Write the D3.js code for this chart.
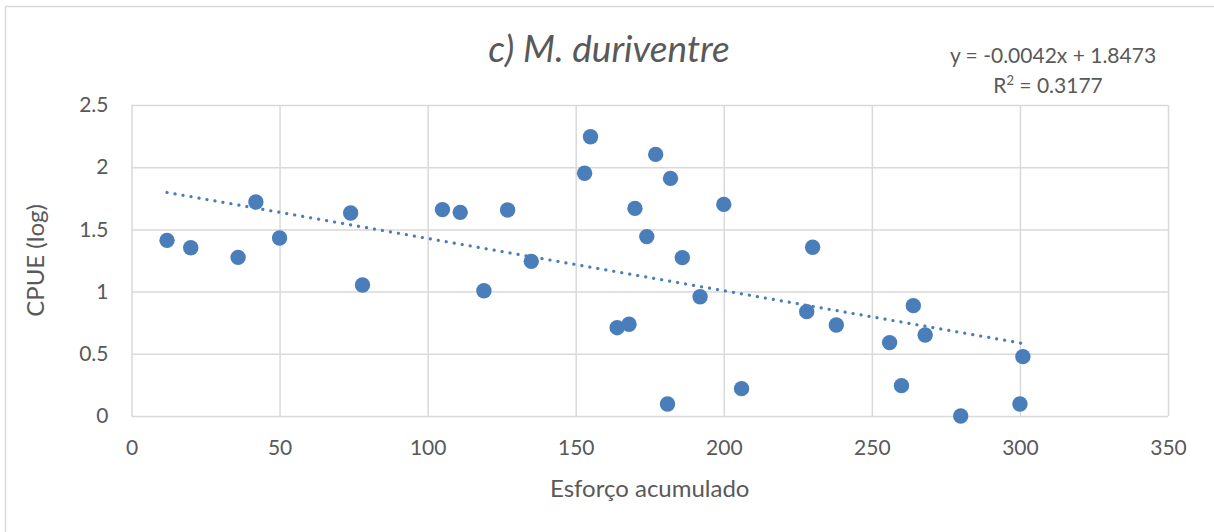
<!DOCTYPE html>
<html>
<head>
  <meta charset="utf-8">
  <script src="https://cdn.jsdelivr.net/npm/d3@7/dist/d3.min.js"></script>
  <style>
    body { margin: 0; background: #fff; }
    text { font-family: Lato, "Open Sans", sans-serif; fill: #595959; }
  </style>
</head>
<body>
<script>
  // esforço acumulado (x) and CPUE log (y)
  var esforco = [12, 20, 36, 42, 50, 74, 78, 105, 111, 119, 127, 135, 153, 155,
                 177, 182, 170, 200, 174, 186, 192, 164, 168, 181, 206, 230, 228,
                 238, 264, 256, 268, 260, 280, 301, 300];
  var cpue = [1.412, 1.353, 1.275, 1.720, 1.431, 1.632, 1.053, 1.659, 1.637, 1.007,
              1.656, 1.243, 1.951, 2.245, 2.103, 1.910, 1.669, 1.701, 1.442, 1.273,
              0.959, 0.710, 0.737, 0.096, 0.220, 1.356, 0.839, 0.731, 0.887, 0.590,
              0.651, 0.244, 0.000, 0.477, 0.096];
  var xTicks = [0, 50, 100, 150, 200, 250, 300, 350];
  var yTicks = [0, 0.5, 1, 1.5, 2, 2.5];
  var slope = -0.0042, intercept = 1.8473;

  var width = 1214, height = 532;
  var plotLeft = 131.5, plotRight = 1168, plotTop = 105, plotBottom = 416;
  var blue = "#4a7ebb";

  var svg = d3.select("body").append("svg")
      .attr("width", width)
      .attr("height", height);

  // chart frame (only top and left edges show in the crop)
  svg.append("rect")
      .attr("x", 5.5).attr("y", 6.5)
      .attr("width", width + 20).attr("height", height + 20)
      .attr("fill", "none")
      .attr("stroke", "#d9d9d9")
      .attr("stroke-width", 1.5);

  var x = d3.scaleLinear().domain([0, 350]).range([plotLeft, plotRight]);
  var y = d3.scaleLinear().domain([0, 2.5]).range([plotBottom, plotTop]);

  // gridlines
  svg.append("g")
      .attr("transform", "translate(0," + plotBottom + ")")
      .call(d3.axisBottom(x).tickValues(xTicks).tickSize(-(plotBottom - plotTop)).tickFormat(""))
      .call(function(g) {
        g.select(".domain").remove();
        g.selectAll("line").attr("stroke", "#d9d9d9").attr("stroke-width", 1.5);
      });
  svg.append("g")
      .attr("transform", "translate(" + plotLeft + ",0)")
      .call(d3.axisLeft(y).tickValues(yTicks).tickSize(-(plotRight - plotLeft)).tickFormat(""))
      .call(function(g) {
        g.select(".domain").remove();
        g.selectAll("line").attr("stroke", "#d9d9d9").attr("stroke-width", 1.5);
      });

  // axis labels
  svg.append("g")
      .attr("transform", "translate(0," + plotBottom + ")")
      .call(d3.axisBottom(x).tickValues(xTicks).tickSize(0).tickPadding(24))
      .call(function(g) {
        g.select(".domain").remove();
        g.selectAll("text").style("font-size", "21px").style("font-family", "Lato, sans-serif").attr("fill", "#595959");
      });
  svg.append("g")
      .attr("transform", "translate(" + plotLeft + ",0)")
      .call(d3.axisLeft(y).tickValues(yTicks).tickSize(0).tickPadding(23).tickFormat(d3.format("")))
      .call(function(g) {
        g.select(".domain").remove();
        g.selectAll("text").style("font-size", "21px").style("font-family", "Lato, sans-serif").attr("fill", "#595959");
      });

  // trendline
  var xs = d3.extent(esforco);
  svg.append("line")
      .attr("x1", x(xs[0])).attr("y1", y(slope * xs[0] + intercept))
      .attr("x2", x(xs[1])).attr("y2", y(slope * xs[1] + intercept))
      .attr("stroke", blue)
      .attr("stroke-width", 3.2)
      .attr("stroke-linecap", "round")
      .attr("stroke-dasharray", "0.1 8");

  // points
  svg.append("g").selectAll("circle")
      .data(esforco)
    .enter().append("circle")
      .attr("cx", function(d) { return x(d); })
      .attr("cy", function(d, i) { return y(cpue[i]); })
      .attr("r", 7.7)
      .attr("fill", blue);

  // titles
  svg.append("text")
      .attr("x", 609).attr("y", 62)
      .attr("text-anchor", "middle")
      .style("font-size", "37px")
      .style("font-style", "italic")
      .text("c) M. duriventre");

  svg.append("text")
      .attr("x", (plotLeft + plotRight) / 2).attr("y", 497)
      .attr("text-anchor", "middle")
      .style("font-size", "24px")
      .text("Esforço acumulado");

  svg.append("text")
      .attr("transform", "translate(44," + (plotTop + plotBottom) / 2 + ") rotate(-90)")
      .attr("text-anchor", "middle")
      .style("font-size", "24px")
      .text("CPUE (log)");

  // regression label
  var eq = svg.append("text")
      .attr("text-anchor", "middle")
      .style("font-size", "21px");
  eq.append("tspan").attr("x", 1053).attr("y", 63).text("y = -0.0042x + 1.8473");
  var r2 = eq.append("tspan").attr("x", 1048).attr("y", 93).text("R");
  r2.append("tspan").attr("dy", -8).style("font-size", "13px").text("2");
  r2.append("tspan").attr("dy", 8).text(" = 0.3177");
</script>
</body>
</html>
